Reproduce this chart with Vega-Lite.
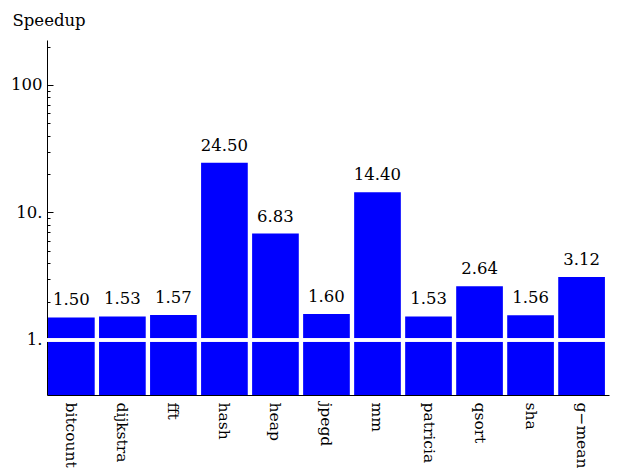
{
  "$schema": "https://vega.github.io/schema/vega-lite/v6.json",
  "width": 562,
  "height": 355,
  "autosize": "none",
  "padding": {"left": 47, "top": 40, "right": 8, "bottom": 77},
  "background": "white",
  "config": {"view": {"stroke": null}, "font": "DejaVu Serif"},
  "data": {
    "values": [
      {"benchmark": "bitcount", "speedup": 1.50},
      {"benchmark": "dijkstra", "speedup": 1.53},
      {"benchmark": "fft", "speedup": 1.57},
      {"benchmark": "hash", "speedup": 24.50},
      {"benchmark": "heap", "speedup": 6.83},
      {"benchmark": "jpegd", "speedup": 1.60},
      {"benchmark": "mm", "speedup": 14.40},
      {"benchmark": "patricia", "speedup": 1.53},
      {"benchmark": "qsort", "speedup": 2.64},
      {"benchmark": "sha", "speedup": 1.56},
      {"benchmark": "g\u2212mean", "speedup": 3.12}
    ]
  },
  "layer": [
    {
      "mark": {"type": "bar", "color": "#0000FF"},
      "encoding": {
        "x": {
          "field": "benchmark", "type": "nominal", "sort": null,
          "scale": {"paddingInner": 0.085, "paddingOuter": 0.05, "align": 0.2},
          "axis": {
            "title": null, "labelAngle": 90, "labelAlign": "left", "labelBaseline": "middle",
            "labelFontSize": 15.5, "labelFont": "DejaVu Serif", "labelColor": "black",
            "ticks": false, "domainColor": "black", "labelPadding": 7
          }
        },
        "y": {
          "field": "speedup", "type": "quantitative",
          "scale": {"type": "log", "domain": [0.37, 225], "nice": false},
          "axis": {
            "values": [0.4, 0.5, 0.6, 0.7, 0.8, 0.9, 1, 2, 3, 4, 5, 6, 7, 8, 9, 10, 20, 30, 40, 50, 60, 70, 80, 90, 100, 200],
            "labelExpr": "datum.value == 1 ? '1.' : datum.value == 10 ? '10.' : datum.value == 100 ? '100' : ''",
            "tickSize": {"condition": {"test": "datum.value == 1 || datum.value == 10 || datum.value == 100", "value": -6}, "value": -3},
            "domainColor": "black", "tickColor": "black",
            "labelFontSize": 16.5, "labelFont": "DejaVu Serif", "labelColor": "black",
            "labelPadding": 11, "labelFlush": false, "labelOverlap": false, "grid": false,
            "title": "Speedup", "titleAngle": 0, "titleAlign": "left", "titleBaseline": "alphabetic",
            "titleX": -35, "titleY": -15, "titleFontSize": 16.5, "titleFontWeight": "normal",
            "titleFont": "DejaVu Serif", "titleColor": "black"
          }
        },
        "y2": {"datum": 0.37}
      }
    },
    {
      "mark": {"type": "rule", "color": "white", "strokeWidth": 2.5},
      "encoding": {"y": {"datum": 1}}
    },
    {
      "mark": {"type": "text", "dy": -12, "baseline": "alphabetic", "fontSize": 16.5, "font": "DejaVu Serif", "color": "black"},
      "encoding": {
        "x": {"field": "benchmark", "type": "nominal", "sort": null},
        "y": {"field": "speedup", "type": "quantitative"},
        "text": {"field": "speedup", "type": "quantitative", "format": ".2f"}
      }
    }
  ]
}
